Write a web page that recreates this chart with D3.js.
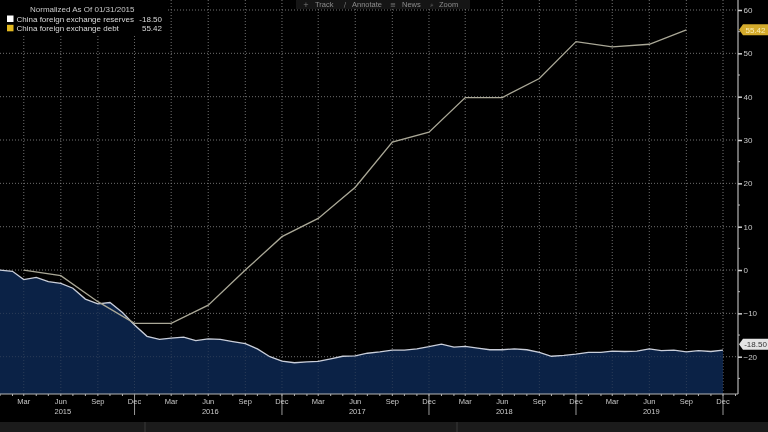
<!DOCTYPE html>
<html>
<head>
<meta charset="utf-8">
<script src="https://cdn.jsdelivr.net/npm/d3@7"></script>
<style>
  html, body { margin: 0; padding: 0; background: #000; }
  svg { display: block; }
</style>
</head>
<body>
<svg id="chart" width="768" height="432"></svg>
<script>
// Data, normalized as of 01/31/2015 (percent change)
var reservesStart = "2015-01";
var reservesValues = [
    0.0, -0.3, -2.2, -1.7, -2.7, -3.1, -4.2, -6.7, -7.8, -7.5, -9.8, -12.7,          // 2015
    -15.3, -16.0, -15.7, -15.5, -16.3, -15.9, -16.0, -16.5, -17.0, -18.2, -20.0, -21.0, // 2016
    -21.4, -21.2, -21.1, -20.5, -19.9, -19.8, -19.2, -18.9, -18.5, -18.5, -18.2, -17.7, // 2017
    -17.1, -17.8, -17.6, -18.0, -18.4, -18.4, -18.2, -18.4, -19.0, -19.9, -19.7, -19.4, // 2018
    -19.0, -19.0, -18.7, -18.8, -18.7, -18.2, -18.6, -18.5, -18.9, -18.6, -18.8, -18.5  // 2019
];
var debtQuarters = [
    "2015-03", "2015-06", "2015-09", "2015-12",
    "2016-03", "2016-06", "2016-09", "2016-12",
    "2017-03", "2017-06", "2017-09", "2017-12",
    "2018-03", "2018-06", "2018-09", "2018-12",
    "2019-03", "2019-06", "2019-09"
];
var debtValues = [
    0.0, -1.3, -7.3, -12.3,
    -12.3, -8.1, 0.0, 7.7,
    11.9, 19.1, 29.5, 31.8,
    39.8, 39.8, 44.2, 52.7,
    51.5, 52.1, 55.42
];
var seriesNames = ["China foreign exchange reserves", "China foreign exchange debt"];
var seriesLast = ["-18.50", "55.42"];
var yTicks = [-20, -10, 0, 10, 20, 30, 40, 50, 60];
var toolbarIcons = ["+", "\u2215", "\u2261", "\u2315"];
var toolbarItems = ["Track", "Annotate", "News", "Zoom"];

var parseMonth = d3.timeParse("%Y-%m");
var font = "'Liberation Sans', Arial, sans-serif";

var svg = d3.select("#chart"),
    width = +svg.attr("width"),
    height = +svg.attr("height");

var plotRight = 738,
    plotBottom = 394;

// Scales
var x = d3.scaleTime()
    .domain([new Date(2015, 0, 1), new Date(2020, 0, 1)])
    .range([0, 735.5]);

var y = d3.scaleLinear()
    .domain([-20, 60])
    .range([356.7, 10]);

var reserves = reservesValues.map(function(v, i) {
    return { date: d3.timeMonth.offset(parseMonth(reservesStart), i), value: v };
});
var debt = debtValues.map(function(v, i) {
    return { date: parseMonth(debtQuarters[i]), value: v };
});

// Background
svg.append("rect")
    .attr("width", width)
    .attr("height", height)
    .attr("fill", "#000");

// Grid
var quarterTicks = d3.timeMonths(new Date(2015, 2, 1), new Date(2020, 0, 2), 3);

var grid = svg.append("g").attr("class", "grid");

grid.selectAll("line.v")
    .data(quarterTicks)
    .enter().append("line")
    .attr("class", "v")
    .attr("x1", d => x(d)).attr("x2", d => x(d))
    .attr("y1", 0).attr("y2", plotBottom)
    .attr("stroke", "#8a8a8a")
    .attr("stroke-width", 1)
    .attr("stroke-dasharray", "1,2")
    .attr("opacity", 0.7);

grid.selectAll("line.h")
    .data(yTicks)
    .enter().append("line")
    .attr("class", "h")
    .attr("x1", 0).attr("x2", plotRight)
    .attr("y1", d => y(d)).attr("y2", d => y(d))
    .attr("stroke", "#8a8a8a")
    .attr("stroke-width", 1)
    .attr("stroke-dasharray", "1,2")
    .attr("opacity", 0.7);

// Reserves area + line
var area = d3.area()
    .x(d => x(d.date))
    .y0(plotBottom)
    .y1(d => y(d.value));

svg.append("path")
    .datum(reserves)
    .attr("d", area)
    .attr("fill", "#0b2348")
    .attr("opacity", 0.97);

// redraw grid faintly over the fill
grid.clone(true).raise().attr("opacity", 0.35);

svg.append("path")
    .datum(reserves)
    .attr("d", d3.line().x(d => x(d.date)).y(d => y(d.value)))
    .attr("fill", "none")
    .attr("stroke", "#c9ceda")
    .attr("stroke-width", 1.3);

// Debt line
svg.append("path")
    .datum(debt)
    .attr("d", d3.line().x(d => x(d.date)).y(d => y(d.value)))
    .attr("fill", "none")
    .attr("stroke", "#aaa897")
    .attr("stroke-width", 1.3);

// X axis
svg.append("line")
    .attr("x1", 0).attr("x2", plotRight)
    .attr("y1", plotBottom).attr("y2", plotBottom)
    .attr("stroke", "#b5b5b5")
    .attr("stroke-width", 1.2);

var monthTicks = d3.timeMonths(new Date(2015, 0, 1), new Date(2020, 0, 2));
svg.append("g")
    .selectAll("line")
    .data(monthTicks)
    .enter().append("line")
    .attr("x1", d => x(d)).attr("x2", d => x(d))
    .attr("y1", plotBottom).attr("y2", plotBottom + 2)
    .attr("stroke", "#b5b5b5");

var yearTicks = quarterTicks.filter(d => d.getMonth() === 11);
svg.append("g")
    .selectAll("line")
    .data(yearTicks)
    .enter().append("line")
    .attr("x1", d => x(d)).attr("x2", d => x(d))
    .attr("y1", plotBottom).attr("y2", plotBottom + 21)
    .attr("stroke", "#9a9a9a");

svg.append("g")
    .selectAll("text")
    .data(quarterTicks)
    .enter().append("text")
    .attr("x", d => x(d))
    .attr("y", plotBottom + 9.5)
    .attr("text-anchor", "middle")
    .style("font-family", font)
    .style("font-size", "7.5px")
    .attr("fill", "#c8c8c8")
    .text(d3.timeFormat("%b"));

var yearLabels = quarterTicks.filter(d => d.getMonth() === 5);
svg.append("g")
    .selectAll("text")
    .data(yearLabels)
    .enter().append("text")
    .attr("x", d => x(d) + 2)
    .attr("y", plotBottom + 19.5)
    .attr("text-anchor", "middle")
    .style("font-family", font)
    .style("font-size", "7.5px")
    .attr("fill", "#c8c8c8")
    .text(d3.timeFormat("%Y"));

// Y axis (right)
svg.append("line")
    .attr("x1", plotRight).attr("x2", plotRight)
    .attr("y1", 0).attr("y2", plotBottom)
    .attr("stroke", "#b5b5b5")
    .attr("stroke-width", 1.2);

var yAxis = d3.axisRight(y)
    .tickValues(yTicks)
    .tickSize(4)
    .tickPadding(1.5)
    .tickFormat(d3.format("d"));

var yG = svg.append("g")
    .attr("transform", "translate(" + plotRight + ",0)")
    .call(yAxis);
yG.select(".domain").remove();
yG.selectAll(".tick line").attr("stroke", "#d0d0d0").attr("stroke-width", 1.5);
yG.selectAll(".tick text")
    .style("font-family", font)
    .style("font-size", "8px")
    .attr("fill", "#c8c8c8");

// minor ticks at the 5s
svg.append("g")
    .selectAll("line")
    .data(d3.range(-25, 60, 10))
    .enter().append("line")
    .attr("x1", plotRight).attr("x2", plotRight + 2)
    .attr("y1", d => y(d)).attr("y2", d => y(d))
    .attr("stroke", "#b5b5b5");

// Last value tags
function tag(value, label, fill, color) {
    var ty = y(value);
    var g = svg.append("g").attr("transform", "translate(" + (plotRight + 1) + "," + ty + ")");
    g.append("path")
        .attr("d", "M0,0 L4,-5.5 L29,-5.5 L29,5.5 L4,5.5 Z")
        .attr("fill", fill);
    g.append("text")
        .attr("x", 16.5)
        .attr("y", 2.9)
        .attr("text-anchor", "middle")
        .style("font-family", font)
        .style("font-size", "8px")
        .attr("fill", color)
        .text(label);
}
tag(+seriesLast[1], seriesLast[1], "#d4ab2c", "#fbeeb8");
tag(+seriesLast[0] + 1.4, seriesLast[0], "#e4e4e4", "#333");

// Legend
svg.append("rect")
    .attr("x", 0).attr("y", 0)
    .attr("width", 166).attr("height", 35)
    .attr("fill", "#000");

svg.append("text")
    .attr("x", 30).attr("y", 12)
    .style("font-family", font)
    .style("font-size", "8px")
    .attr("fill", "#c8c8c8")
    .text("Normalized As Of 01/31/2015");

var legendColors = ["#ffffff", "#e3b81f"];
seriesNames.forEach(function(name, i) {
    svg.append("rect")
        .attr("x", 7).attr("y", 15.5 + i * 9.3)
        .attr("width", 6.5).attr("height", 6.5)
        .attr("fill", legendColors[i]);
    svg.append("text")
        .attr("x", 16.5).attr("y", 22 + i * 9.3)
        .style("font-family", font)
        .style("font-size", "8px")
        .attr("fill", "#d8d8d8")
        .text(name);
    svg.append("text")
        .attr("x", 162).attr("y", 22 + i * 9.3)
        .attr("text-anchor", "end")
        .style("font-family", font)
        .style("font-size", "8px")
        .attr("fill", "#d8d8d8")
        .text(seriesLast[i]);
});

// Toolbar
svg.append("rect")
    .attr("x", 296).attr("y", 0)
    .attr("width", 174).attr("height", 9)
    .attr("fill", "#151515");

var iconX = [306, 345, 393, 432];
var itemX = [315, 352, 402, 439];
toolbarItems.forEach(function(t, i) {
    svg.append("text")
        .attr("x", iconX[i]).attr("y", 7)
        .attr("text-anchor", "middle")
        .style("font-family", "'DejaVu Sans', sans-serif")
        .style("font-size", "7px")
        .attr("fill", "#7c7c7c")
        .text(toolbarIcons[i]);
    svg.append("text")
        .attr("x", itemX[i]).attr("y", 7)
        .style("font-family", font)
        .style("font-size", "7.5px")
        .attr("fill", "#8c8c8c")
        .text(t);
});

// Bottom strip
svg.append("rect")
    .attr("x", 0).attr("y", 422)
    .attr("width", width).attr("height", 10)
    .attr("fill", "#1b1b1b");
[145, 457].forEach(function(d) {
    svg.append("line")
        .attr("x1", d).attr("x2", d)
        .attr("y1", 422).attr("y2", 432)
        .attr("stroke", "#3a3a3a");
});
</script>
</body>
</html>
